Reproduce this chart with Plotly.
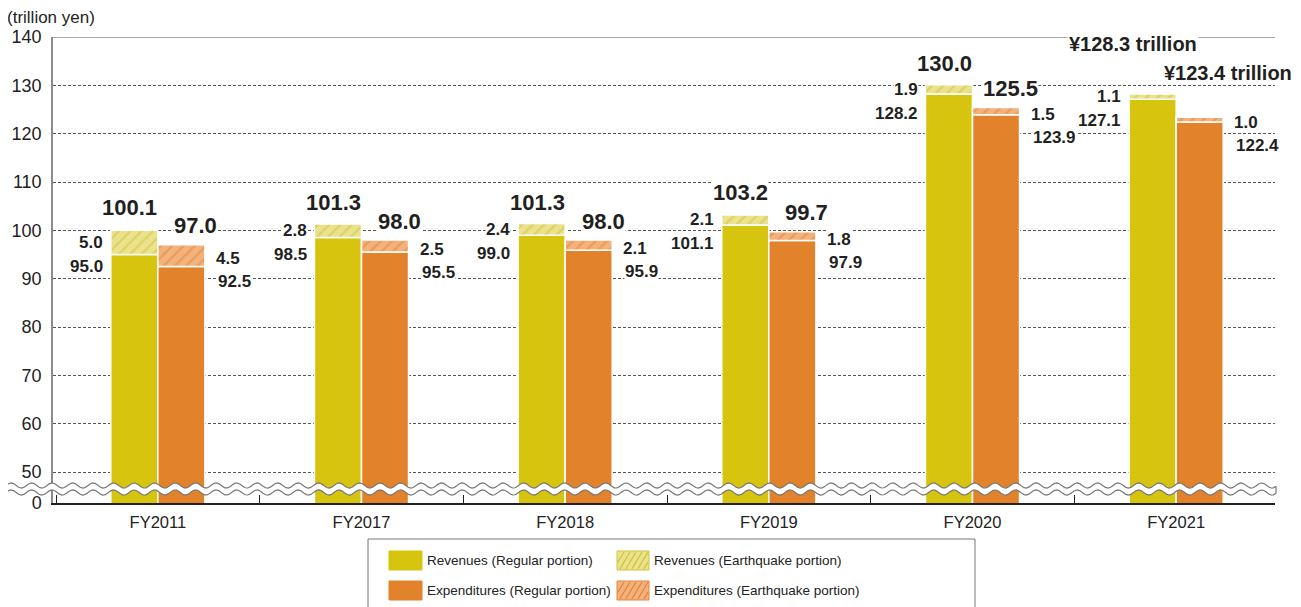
import numpy as np
import plotly.graph_objects as go

# ---------------- data ----------------
categories = ["FY2011", "FY2017", "FY2018", "FY2019", "FY2020", "FY2021"]
rev_regular = [95.0, 98.5, 99.0, 101.1, 128.2, 127.1]
rev_quake = [5.0, 2.8, 2.4, 2.1, 1.9, 1.1]
rev_total = [100.1, 101.3, 101.3, 103.2, 130.0, 128.3]
exp_regular = [92.5, 95.5, 95.9, 97.9, 123.9, 122.4]
exp_quake = [4.5, 2.5, 2.1, 1.8, 1.5, 1.0]
exp_total = [97.0, 98.0, 98.0, 99.7, 125.5, 123.4]
ytick_values = [50, 60, 70, 80, 90, 100, 110, 120, 130, 140]
ytick_labels = ["50", "60", "70", "80", "90", "100", "110", "120", "130", "140"]
axis_floor = 43.6          # broken axis: the "0" label sits here
floor_label = "0"
unit_label = "(trillion yen)"
legend_labels = ["Revenues (Regular portion)", "Revenues (Earthquake portion)",
                 "Expenditures (Regular portion)", "Expenditures (Earthquake portion)"]

# ---------------- style ----------------
PAGE_W, PAGE_H = 1301, 607
OFF = 8                      # page body margin
W, H = PAGE_W - OFF, PAGE_H - OFF
# plot area in page pixels
L, R, T, B = 53, 1275, 37, 503
FONT = "Liberation Sans, Arial, sans-serif"
TXT = "#231f20"
REV = "#d7c40f"
EXP = "#e2822a"
REV_Q_BG = "#ebe28e"
REV_Q_FG = "#d2c23a"
EXP_Q_BG = "#f3b27c"
EXP_Q_FG = "#e4853a"


def px(x):
    return (x - L) / (R - L)


def py(y):
    return (B - y) / (B - T)


fig = go.Figure()
fig.add_trace(go.Bar(x=categories, y=rev_regular, offsetgroup="rev", name=legend_labels[0],
                     marker=dict(color=REV, line=dict(color="white", width=1.5))))
fig.add_trace(go.Bar(x=categories, y=rev_quake, base=rev_regular, offsetgroup="rev", name=legend_labels[1],
                     marker=dict(color=REV_Q_BG, line=dict(color="white", width=1.5),
                                 pattern=dict(shape="/", fgcolor=REV_Q_FG, size=8, solidity=0.3,
                                              fillmode="overlay"))))
fig.add_trace(go.Bar(x=categories, y=exp_regular, offsetgroup="exp", name=legend_labels[2],
                     marker=dict(color=EXP, line=dict(color="white", width=1.5))))
fig.add_trace(go.Bar(x=categories, y=exp_quake, base=exp_regular, offsetgroup="exp", name=legend_labels[3],
                     marker=dict(color=EXP_Q_BG, line=dict(color="white", width=1.5),
                                 pattern=dict(shape="/", fgcolor=EXP_Q_FG, size=8, solidity=0.3,
                                              fillmode="overlay"))))

ann = []
BIG = dict(family=FONT, size=22, color=TXT, weight="bold")
MID = dict(family=FONT, size=17, color=TXT, weight="bold")
last = len(categories) - 1
for i, c in enumerate(categories):
    if i == last:
        ann.append(dict(x=c, y=rev_total[i], xref="x", yref="y", text=f"¥{rev_total[i]:.1f} trillion",
                        showarrow=False, xanchor="center", yanchor="middle", xshift=-43, yshift=50,
                        font=dict(BIG, size=20), bgcolor="white", borderpad=1))
        ann.append(dict(x=c, y=exp_total[i], xref="x", yref="y", text=f"¥{exp_total[i]:.1f} trillion",
                        showarrow=False, xanchor="center", yanchor="middle", xshift=52, yshift=44,
                        font=dict(BIG, size=20), bgcolor="white", borderpad=0))
    else:
        ann.append(dict(x=c, y=rev_total[i], xref="x", yref="y", text=f"{rev_total[i]:.1f}",
                        showarrow=False, xanchor="center", yanchor="middle", xshift=-28, yshift=22,
                        font=BIG, bgcolor="white", borderpad=0))
        ann.append(dict(x=c, y=exp_total[i], xref="x", yref="y", text=f"{exp_total[i]:.1f}",
                        showarrow=False, xanchor="center", yanchor="middle", xshift=38, yshift=19,
                        font=BIG, bgcolor="white", borderpad=0))
    rq = rev_regular[i] + rev_quake[i] / 2
    eq = exp_regular[i] + exp_quake[i] / 2
    ann.append(dict(x=c, y=rq, xref="x", yref="y", text=f"{rev_quake[i]:.1f}", showarrow=False,
                    xanchor="right", yanchor="middle", xshift=-54, yshift=0, font=MID,
                    bgcolor="white", borderpad=0))
    ann.append(dict(x=c, y=rq, xref="x", yref="y", text=f"{rev_regular[i]:.1f}", showarrow=False,
                    xanchor="right", yanchor="middle", xshift=-54, yshift=-24, font=MID,
                    bgcolor="white", borderpad=0))
    ann.append(dict(x=c, y=eq, xref="x", yref="y", text=f"{exp_quake[i]:.1f}", showarrow=False,
                    xanchor="left", yanchor="middle", xshift=57, yshift=-3, font=MID,
                    bgcolor="white", borderpad=0))
    ann.append(dict(x=c, y=eq, xref="x", yref="y", text=f"{exp_regular[i]:.1f}", showarrow=False,
                    xanchor="left", yanchor="middle", xshift=59, yshift=-26, font=MID,
                    bgcolor="white", borderpad=0))

ann.append(dict(x=px(5), y=py(17), xref="paper", yref="paper", text=unit_label, showarrow=False,
                xanchor="left", yanchor="middle", font=dict(family=FONT, size=17, color="#222")))

shapes = []
# top frame line at 140
shapes.append(dict(type="line", xref="paper", yref="y", x0=0, x1=1, y0=140, y1=140,
                   line=dict(color="#8a8a8a", width=1.5), layer="below"))

# axis break (wavy band)
xs = np.linspace(6, 1276, 500)
top = 485.5 - 2.6 * np.sin(2 * np.pi * (xs - 6) / 20.5)
bot = 492.5 - 2.6 * np.sin(2 * np.pi * (xs - 6) / 20.5)
pts_top = [f"{px(a):.5f},{py(b):.5f}" for a, b in zip(xs, top)]
pts_bot = [f"{px(a):.5f},{py(b):.5f}" for a, b in zip(xs, bot)]
band = "M " + " L ".join(pts_top) + " L " + " L ".join(pts_bot[::-1]) + " Z"
shapes.append(dict(type="path", xref="paper", yref="paper", path=band, fillcolor="white",
                   line=dict(width=0), layer="above"))
shapes.append(dict(type="path", xref="paper", yref="paper", path="M " + " L ".join(pts_top),
                   line=dict(color="#777", width=1.2), layer="above"))
shapes.append(dict(type="path", xref="paper", yref="paper", path="M " + " L ".join(pts_bot),
                   line=dict(color="#777", width=1.2), layer="above"))
shapes.append(dict(type="line", xref="paper", yref="paper", x0=px(1276), x1=px(1276),
                   y0=py(top[-1]), y1=py(bot[-1]), line=dict(color="#777", width=1.2), layer="above"))

# manual legend
shapes.append(dict(type="rect", xref="paper", yref="paper", x0=px(368), x1=px(975), y0=py(650), y1=py(539),
                   line=dict(color="#777", width=1), fillcolor="white", layer="above"))


def hatch(xl, xr, yt, yb, color, spacing=6.0, s=0.6):
    segs = []
    h = yb - yt
    c = xl - s * h
    while c < xr:
        t0 = max(0.0, (xl - c) / s)
        t1 = min(h, (xr - c) / s)
        if t1 > t0:
            segs.append(f"M {px(c + s * t0):.5f},{py(yb - t0):.5f} L {px(c + s * t1):.5f},{py(yb - t1):.5f}")
        c += spacing
    return dict(type="path", xref="paper", yref="paper", path=" ".join(segs),
                line=dict(color=color, width=1.3), layer="above")


sw = [(389, 422, 551, 570, REV, None), (617, 649, 551, 570, REV_Q_BG, REV_Q_FG),
      (389, 422, 581, 600, EXP, None), (617, 649, 581, 600, EXP_Q_BG, EXP_Q_FG)]
for k, (x0, x1, y0, y1, fc, hc) in enumerate(sw):
    shapes.append(dict(type="rect", xref="paper", yref="paper", x0=px(x0), x1=px(x1), y0=py(y1), y1=py(y0),
                       fillcolor=fc, line=dict(color=hc if hc else fc, width=1), layer="above"))
    if hc:
        shapes.append(hatch(x0 + 1, x1 - 1, y0 + 1, y1 - 1, hc))
    ann.append(dict(x=px(x1 + 3), y=py((y0 + y1) / 2), xref="paper", yref="paper", text=legend_labels[k],
                    showarrow=False, xanchor="left", yanchor="middle",
                    font=dict(family=FONT, size=13.5, color="#222")))

d = 3.0 / ((R - L) / len(categories))
fig.update_layout(
    width=W, height=H,
    margin=dict(l=L - OFF, r=PAGE_W - R, t=T - OFF, b=PAGE_H - B, autoexpand=False),
    paper_bgcolor="white", plot_bgcolor="white",
    barmode="group", bargap=0.538, bargroupgap=0.0,
    showlegend=False,
    font=dict(family=FONT, color="#222"),
    annotations=ann, shapes=shapes,
    xaxis=dict(type="category", range=[-0.5 - d, len(categories) - 0.5 - d],
               showline=True, linecolor="#222", linewidth=1.5, ticks="inside",
               tickson="boundaries", ticklen=8, tickcolor="#222", tickwidth=1,
               tickfont=dict(family=FONT, size=16.5, color="#222"), ticklabelstandoff=3, showgrid=False),
    yaxis=dict(range=[axis_floor, 140], tickvals=[axis_floor] + ytick_values,
               ticktext=[floor_label] + ytick_labels, showline=True, linecolor="#8a8a8a", linewidth=1.5,
               showgrid=True, gridcolor="#555", griddash="3px,2px", gridwidth=1, zeroline=False,
               ticks="", tickfont=dict(family=FONT, size=18, color="#222"), ticklabelstandoff=6),
)

fig.write_html("out.html")
